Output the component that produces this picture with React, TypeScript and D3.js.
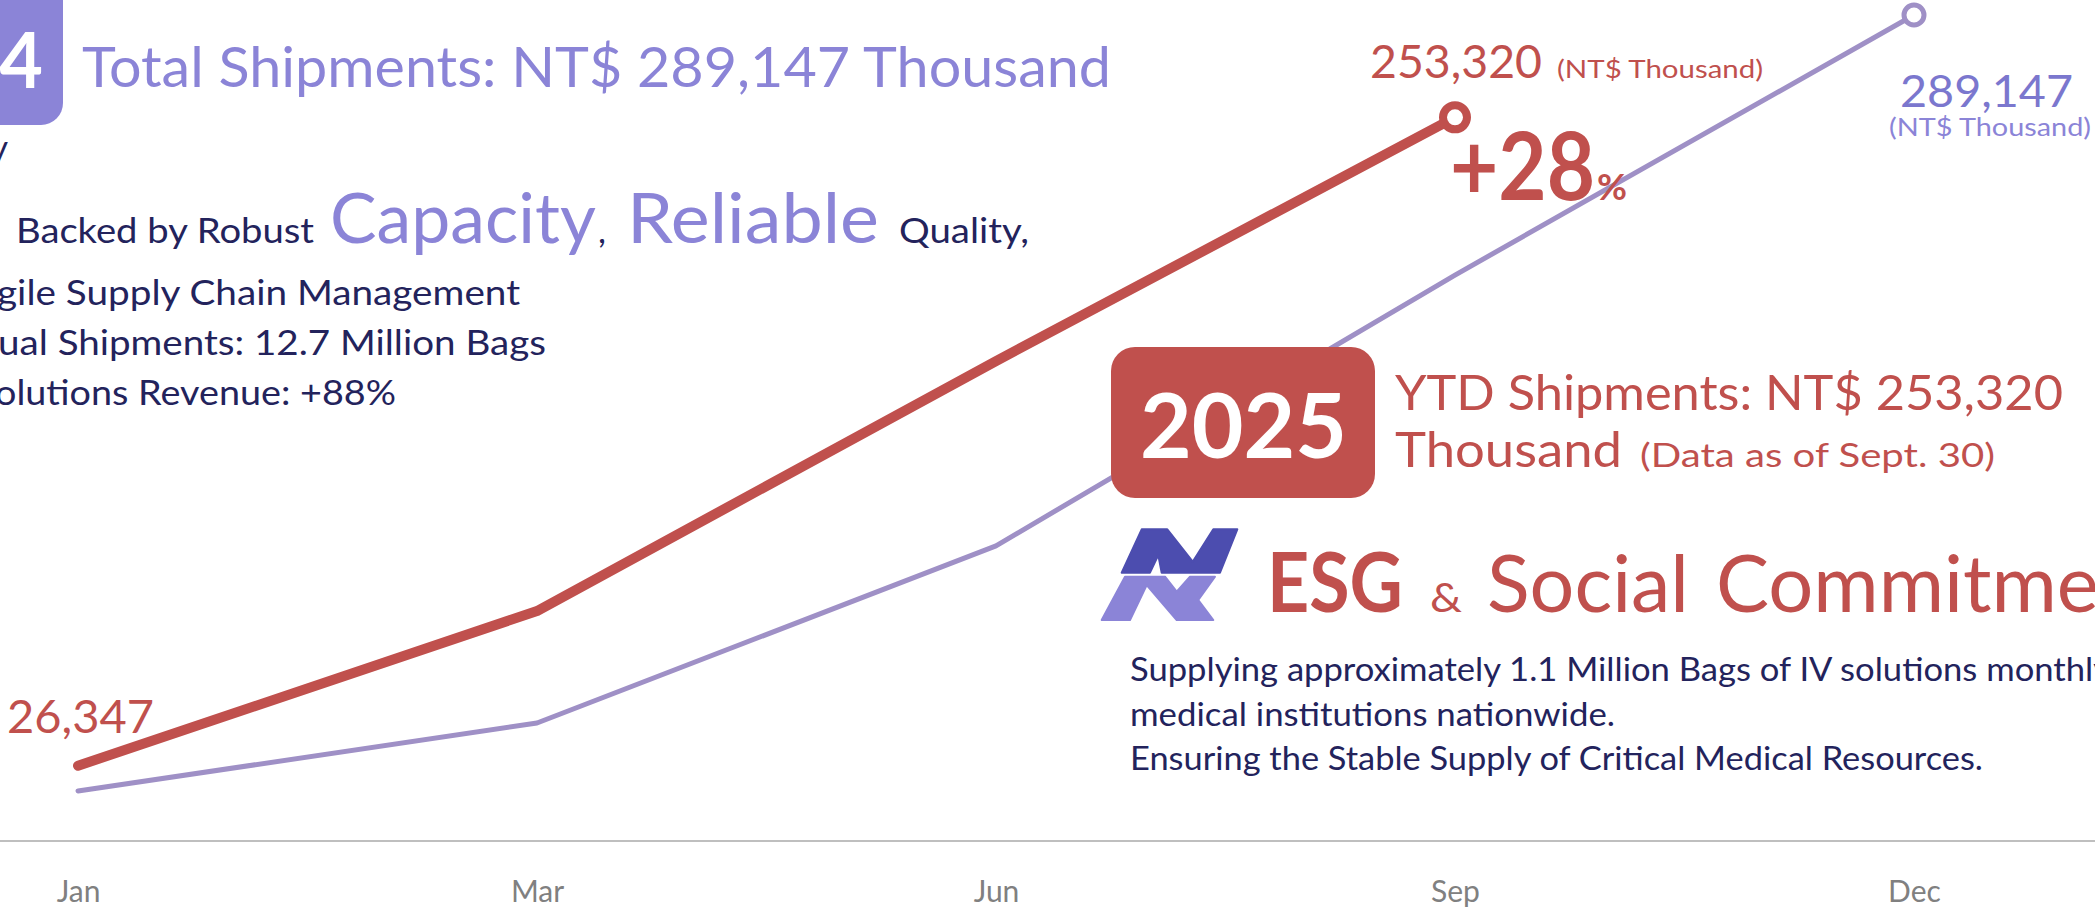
import React, { useEffect, useRef } from "react";
import * as d3 from "d3";

// chart data
const months = ["Jan", "Mar", "Jun", "Sep", "Dec"];
const shipments2024 = [17500, 41300, 103300, 198100, 289147];
const shipments2025 = [26347, 80500, 168000, 253320];
const total2024 = 289147;

const W = 2095;
const H = 908;
const FONT = "Lato, 'Noto Sans', sans-serif";

const RED = "#C0504D";
const PURPLE = "#8B84D7";
const LINE_PURPLE = "#9F90C6";
const NAVY = "#23235C";
const LOGO_DARK = "#4C4DAF";

// logo outline (N mark), in px
const logoTop = [
  [1121.7, 572.7], [1141.7, 529.3], [1167.3, 529.3], [1192.7, 561.7],
  [1213.3, 529.3], [1237.3, 529.3], [1220, 572.7], [1161.7, 572.7],
  [1158.3, 555], [1150, 572.7],
];
const logoBottom = [
  [1101.7, 620], [1130, 620], [1146.7, 585], [1176.7, 620], [1213.3, 620],
  [1198.3, 600], [1215, 576.7], [1190, 576.7], [1176.7, 591.7],
  [1165, 576.7], [1125, 576.7],
];

function App() {
  const ref = useRef<SVGSVGElement>(null);

  useEffect(() => {
    const svg = d3.select(ref.current);
    svg.selectAll("*").remove();

    const x = d3.scalePoint().domain(months).range([78, 1914]);
    const y = d3.scaleLinear().domain([0, total2024]).range([841, 15]);

    // text helper
    const txt = (
      s: string,
      tx: number,
      ty: number,
      size: number,
      fill: string,
      opts: { weight?: string; len?: number; anchor?: string } = {}
    ) => {
      const t = svg
        .append("text")
        .attr("x", tx)
        .attr("y", ty)
        .attr("font-family", FONT)
        .attr("font-size", size)
        .attr("font-weight", opts.weight || "normal")
        .attr("fill", fill)
        .attr("text-anchor", opts.anchor || "start")
        .text(s);
      if (opts.len) {
        t.attr("textLength", opts.len).attr("lengthAdjust", "spacingAndGlyphs");
      }
      return t;
    };

    // x axis baseline
    svg
      .append("line")
      .attr("x1", 0)
      .attr("x2", W)
      .attr("y1", y(0))
      .attr("y2", y(0))
      .attr("stroke", "#BFBFBF")
      .attr("stroke-width", 2);

    const axis = svg
      .append("g")
      .attr("transform", `translate(0,${y(0)})`)
      .call(d3.axisBottom(x).tickSize(0).tickPadding(40));
    axis.select(".domain").remove();
    axis
      .selectAll("text")
      .attr("font-family", FONT)
      .attr("font-size", 30)
      .attr("fill", "#808080");

    const line = d3
      .line<number>()
      .x((_, i) => x(months[i]) as number)
      .y((d) => y(d));

    // 2024 line
    svg
      .append("path")
      .datum(shipments2024)
      .attr("d", line)
      .attr("fill", "none")
      .attr("stroke", LINE_PURPLE)
      .attr("stroke-width", 5)
      .attr("stroke-linecap", "round")
      .attr("stroke-linejoin", "round");

    // 2025 line
    svg
      .append("path")
      .datum(shipments2025)
      .attr("d", line)
      .attr("fill", "none")
      .attr("stroke", RED)
      .attr("stroke-width", 10)
      .attr("stroke-linecap", "round")
      .attr("stroke-linejoin", "round");

    // end markers
    const last24 = shipments2024.length - 1;
    svg
      .append("circle")
      .attr("cx", x(months[last24]) as number)
      .attr("cy", y(shipments2024[last24]))
      .attr("r", 10)
      .attr("fill", "white")
      .attr("stroke", LINE_PURPLE)
      .attr("stroke-width", 5);
    const last25 = shipments2025.length - 1;
    svg
      .append("circle")
      .attr("cx", x(months[last25]) as number)
      .attr("cy", y(shipments2025[last25]))
      .attr("r", 12)
      .attr("fill", "white")
      .attr("stroke", RED)
      .attr("stroke-width", 8);

    // value labels
    txt(d3.format(",")(shipments2025[0]), 7, 733, 46, RED, { len: 147 });
    txt(d3.format(",")(shipments2025[last25]), 1370, 78, 46, RED, { len: 172 });
    txt("(NT$ Thousand)", 1557, 78, 25, RED, { len: 206 });
    txt("+28", 1450, 200, 94, RED, { weight: "bold", len: 145 });
    txt("%", 1597, 200, 37, RED, { weight: "bold", len: 30 });
    txt(d3.format(",")(shipments2024[last24]), 1900, 107, 45, "#7B77CE", { len: 173 });
    txt("(NT$ Thousand)", 1889, 136, 25, PURPLE, { len: 202 });

    // 2024 header
    svg
      .append("rect")
      .attr("x", -40)
      .attr("y", -30)
      .attr("width", 103)
      .attr("height", 155)
      .attr("rx", 22)
      .attr("fill", PURPLE);
    txt("2024", 43, 88, 76, "white", { weight: "bold", len: 175, anchor: "end" });
    txt("Total Shipments: NT$ 289,147 Thousand", 82, 87, 56, PURPLE, { len: 1029 });
    txt("y", 8, 160, 35, NAVY, { anchor: "end" });

    txt("Backed by Robust", 16, 243, 35, NAVY, { len: 298 });
    txt("Capacity", 330, 243, 69, PURPLE, { len: 266 });
    txt(",", 598, 243, 35, NAVY);
    txt("Reliable", 627, 243, 69, PURPLE, { len: 252 });
    txt("Quality,", 899, 243, 35, NAVY, { len: 130 });
    txt("gile Supply Chain Management", -3, 305, 35, NAVY, { len: 523 });
    txt("ual Shipments: 12.7 Million Bags", -2, 355, 35, NAVY, { len: 548 });
    txt("olutions Revenue: +88%", -5, 405, 35, NAVY, { len: 401 });

    // 2025 header
    svg
      .append("rect")
      .attr("x", 1111)
      .attr("y", 347)
      .attr("width", 264)
      .attr("height", 151)
      .attr("rx", 24)
      .attr("fill", RED);
    txt("2025", 1140, 458, 90, "white", { weight: "bold", len: 207 });
    txt("YTD Shipments: NT$ 253,320", 1395, 410, 49, RED, { len: 668 });
    txt("Thousand", 1395, 467, 49, RED, { len: 227 });
    txt("(Data as of Sept. 30)", 1640, 467, 33, RED, { len: 355 });

    // logo
    const poly = d3.line().curve(d3.curveLinearClosed);
    svg
      .append("path")
      .attr("d", poly(logoTop as [number, number][]))
      .attr("fill", LOGO_DARK)
      .attr("stroke", LOGO_DARK)
      .attr("stroke-width", 2)
      .attr("stroke-linejoin", "round");
    svg
      .append("path")
      .attr("d", poly(logoBottom as [number, number][]))
      .attr("fill", PURPLE)
      .attr("stroke", PURPLE)
      .attr("stroke-width", 2)
      .attr("stroke-linejoin", "round");

    txt("ESG", 1267, 612, 82, RED, { weight: "bold", len: 136 });
    txt("&", 1430, 612, 40, RED, { len: 32 });
    txt("Social", 1487, 612, 80, RED, { len: 202 });
    txt("Commitment", 1716, 612, 80, RED, { len: 455 });

    txt("Supplying approximately 1.1 Million Bags of IV solutions monthly", 1130, 681, 32, NAVY, { len: 981 });
    txt("medical institutions nationwide.", 1130, 726, 32, NAVY, { len: 485 });
    txt("Ensuring the Stable Supply of Critical Medical Resources.", 1130, 770, 32, NAVY, { len: 853 });
  }, []);

  return (
    <svg
      ref={ref}
      width={W}
      height={H}
      style={{ position: "absolute", left: 0, top: 0, display: "block", background: "white" }}
    />
  );
}

export default App;
